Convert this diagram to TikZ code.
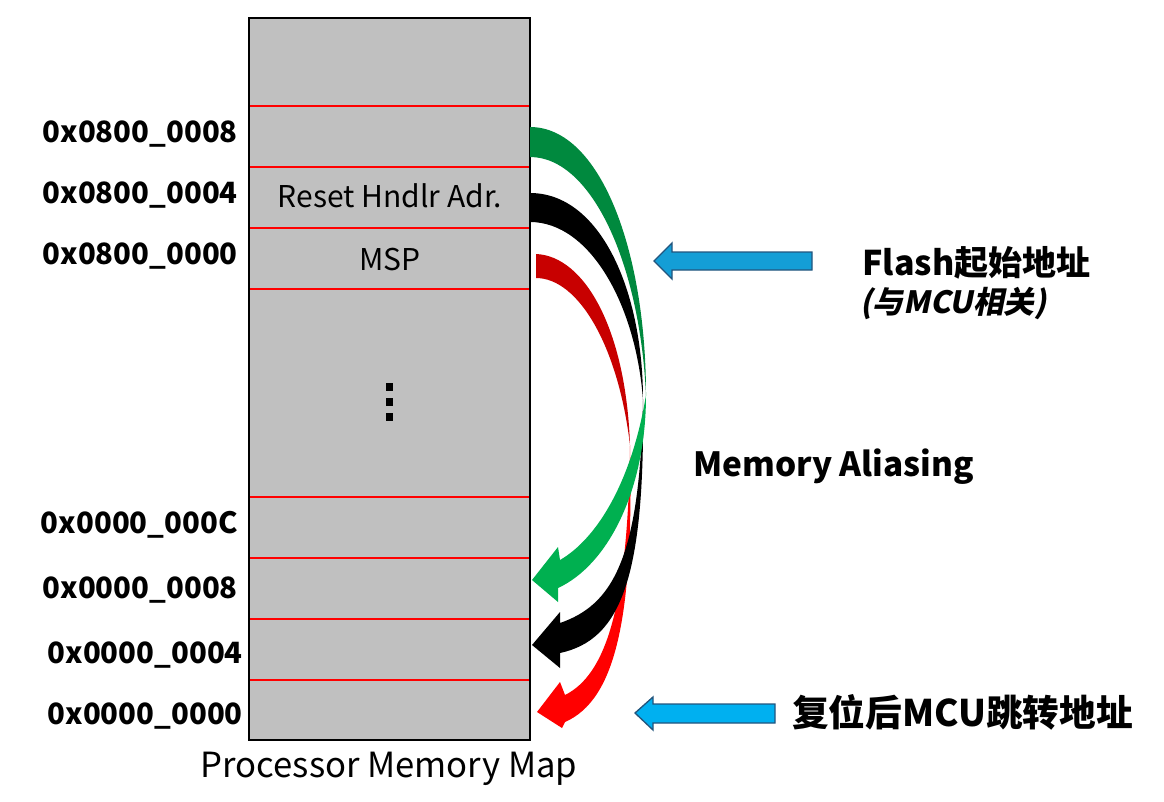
\documentclass[tikz,border=0pt]{standalone}
\usepackage{fontspec}
\setmainfont{Noto Sans CJK SC}
\newfontfamily\slantcjk{Noto Sans CJK SC}[FakeSlant=0.2]
\usetikzlibrary{calc}
\definecolor{cellgray}{RGB}{192,192,192}
\definecolor{dkgreen}{RGB}{0,137,62}
\definecolor{ltgreen}{RGB}{0,176,80}
\definecolor{dkred}{RGB}{200,0,0}
\definecolor{flashblue}{RGB}{20,158,214}
\definecolor{resetblue}{RGB}{0,176,240}
\definecolor{edgeblue}{RGB}{35,85,125}

\begin{document}
\begin{tikzpicture}[x=0.75pt,y=-0.75pt,
  addr/.style={anchor=base east,inner sep=0pt,font=\fontsize{22}{26}\selectfont\bfseries},
  cell/.style={anchor=base,inner sep=0pt,font=\fontsize{22.5}{26}\selectfont},
  note/.style={anchor=base west,inner sep=0pt,font=\fontsize{25.5}{30}\selectfont\bfseries},
  sep/.style={red,line width=1.6pt},
  blockarrow/.style={draw=edgeblue,line width=1pt,line join=miter}]
  \useasboundingbox (0,0) rectangle (1164,801);

  % memory map
  \fill[cellgray] (249,18) rectangle (530,740);
  \foreach \y in {106,167,228,289,497,558,619,680}
    \draw[sep] (249,\y) -- (530,\y);
  \draw[line width=1pt] (249,18) rectangle (530,740);

  \node[cell] (reset) at (390,207) {Reset Hndlr Adr.};
  \node[cell] (msp) at (390,270) {MSP};
  \foreach \y in {387,402,417}
    \fill (386,\y-4) rectangle (393,\y+4);
  \node[anchor=base,inner sep=0pt,font=\fontsize{26}{30}\selectfont] (map) at (389,777) {Processor Memory Map};

  \node[addr] (f8) at (238,142) {0x0800\_0008};
  \node[addr] (f4) at (238,203) {0x0800\_0004};
  \node[addr] (f0) at (238,264) {0x0800\_0000};
  \node[addr] (ac) at (238,533) {0x0000\_000C};
  \node[addr] (a8) at (238,598) {0x0000\_0008};
  \node[addr] (a4) at (243,663) {0x0000\_0004};
  \node[addr] (a0) at (243,724) {0x0000\_0000};

  % aliasing arrows
  \fill[dkred] (536,254) .. controls (585,256) and (626,330) .. (630,445)
    .. controls (618,345) and (578,278) .. (536,278) -- cycle;
  \fill[red] (630,445) .. controls (634,620) and (615,700) .. (565,722)
    -- (562,728) -- (537,712) -- (560,682) -- (565,695)
    .. controls (605,675) and (628,610) .. (630,445) -- cycle;
  \fill[black] (530,193) .. controls (600,193) and (643,290) .. (643,400)
    .. controls (636,305) and (590,222) .. (530,222) -- cycle;
  \fill[black] (643,400) .. controls (645,580) and (620,640) .. (560,653)
    -- (560,668) -- (532,645) -- (560,612) -- (560,623)
    .. controls (612,605) and (640,560) .. (643,400) -- cycle;
  \fill[dkgreen] (530,127) .. controls (600,127) and (646,250) .. (646,395)
    .. controls (640,265) and (592,157) .. (530,157) -- cycle;
  \fill[ltgreen] (646,395) .. controls (646,490) and (608,565) .. (558,588)
    -- (558,602) -- (532,580) -- (558,547) -- (560,560)
    .. controls (598,538) and (632,480) .. (646,395) -- cycle;

  % pointers
  \filldraw[blockarrow,fill=flashblue] (654,261) -- (672,243) -- (672,252) -- (812,252)
    -- (812,270) -- (672,270) -- (672,279) -- cycle;
  \filldraw[blockarrow,fill=resetblue] (635,713) -- (653,697) -- (653,704) -- (775,704)
    -- (775,723) -- (653,723) -- (653,730) -- cycle;

  \node[note] (flash) at (862,275) {Flash起始地址};
  \node[note,font=\fontsize{23}{27}\selectfont\slantcjk\bfseries] (mcu) at (860,313) {(与MCU相关)};
  \node[note,font=\fontsize{25}{30}\selectfont\bfseries] (alias) at (693,476) {Memory Aliasing};
  \node[note,font=\fontsize{27.5}{32}\selectfont\bfseries] (jump) at (792,726) {复位后MCU跳转地址};
\end{tikzpicture}
\end{document}
